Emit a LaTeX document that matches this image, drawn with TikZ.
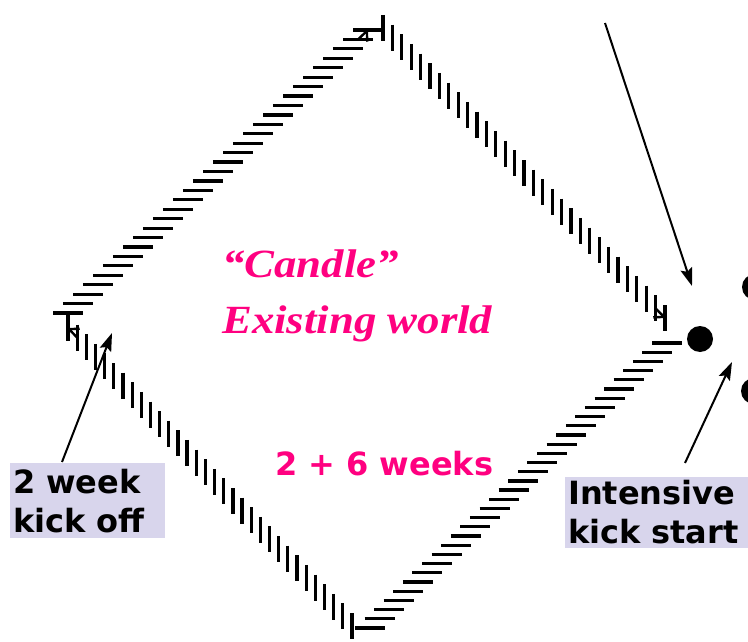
\documentclass[tikz,border=0pt]{standalone}
\usepackage{fontspec}
\setmainfont{DejaVu Sans}
\newfontfamily\pinkserif[FakeStretch=1.12]{Liberation Serif}
\usetikzlibrary{calc,arrows.meta}
\definecolor{hotpink}{RGB}{255,0,128}
\definecolor{lav}{RGB}{216,213,236}
\tikzset{
  tick/.style={line width=3.2pt, black},
  barb/.style={line width=2.4pt, -{Straight Barb[length=7pt,width=16pt]}},
  pointer/.style={line width=2pt, -{Stealth[length=18pt,width=12pt,inset=3pt]}},
  labelbox/.style={fill=lav, font=\bfseries\fontsize{32}{39}\selectfont, align=left, inner xsep=3pt, anchor=north west},
  pinktext/.style={text=hotpink, font=\pinkserif\bfseries\itshape\fontsize{40}{56}\selectfont, anchor=base west, inner sep=0pt},
  weekstext/.style={text=hotpink, font=\bfseries\fontsize{32}{39}\selectfont, anchor=base west, inner sep=0pt},
  dot/.style={circle, fill=black, minimum size=26pt, inner sep=0pt}
}
% hatched edge with horizontal ticks
\newcommand\hatchedgeH[3]{%
  \foreach \k in {0,...,#3}{%
    \pgfmathsetmacro\fr{\k/#3}%
    \draw[tick] ($(#1)!\fr!(#2)$) ++(-15,0) -- ++(30,0);
  }}
% hatched edge with vertical ticks
\newcommand\hatchedgeV[3]{%
  \foreach \k in {0,...,#3}{%
    \pgfmathsetmacro\fr{\k/#3}%
    \draw[tick] ($(#1)!\fr!(#2)$) ++(0,-13) -- ++(0,26);
  }}
\begin{document}
\begin{tikzpicture}[x=1pt,y=-1pt]
\useasboundingbox (0,0) rectangle (748,642);
\clip (0,0) rectangle (748,642);

% diamond corners
\coordinate (e1s) at (68,313);  \coordinate (e1e) at (368,30);
\coordinate (e2s) at (383,28);  \coordinate (e2e) at (665,318);
\coordinate (e4s) at (667,343); \coordinate (e4e) at (370,628);
\coordinate (e3s) at (352,626); \coordinate (e3e) at (68,328);

\hatchedgeH{e1s}{e1e}{30}
\hatchedgeV{e2s}{e2e}{30}
\hatchedgeH{e4s}{e4e}{31}
\hatchedgeV{e3s}{e3e}{31}

\draw[barb] ($(e1s)!0.965!(e1e)$) -- (e1e);
\draw[barb] ($(e2s)!0.965!(e2e)$) -- (e2e);
\draw[barb] ($(e3s)!0.965!(e3e)$) -- (e3e);

% texts
\node[pinktext] (candle) at (222,277) {“Candle”};
\node[pinktext] (exist) at (222,333) {Existing world};
\node[weekstext] (weeks) at (275,475) {2 + 6 weeks};

\node[labelbox, text width=149pt, minimum height=75pt] (kickoff) at (10,463) {2 week\\kick off};
\node[labelbox, text width=220pt, minimum height=68pt] (kickstart) at (565,477) {Intensive\\kick start};

% dots
\node[dot] (d1) at (700,339) {};
\node[dot] (d2) at (755,287) {};
\node[dot] (d3) at (754,391) {};

% pointers
\coordinate (p1s) at (605,23);  \coordinate (p1e) at (692,286);
\coordinate (p2s) at (685,463); \coordinate (p2e) at (732,362);
\coordinate (p3s) at (62,462);  \coordinate (p3e) at (112,333);
\draw[pointer] (p1s) -- (p1e);
\draw[pointer] (p2s) -- (p2e);
\draw[pointer] (p3s) -- (p3e);
\end{tikzpicture}
\end{document}
